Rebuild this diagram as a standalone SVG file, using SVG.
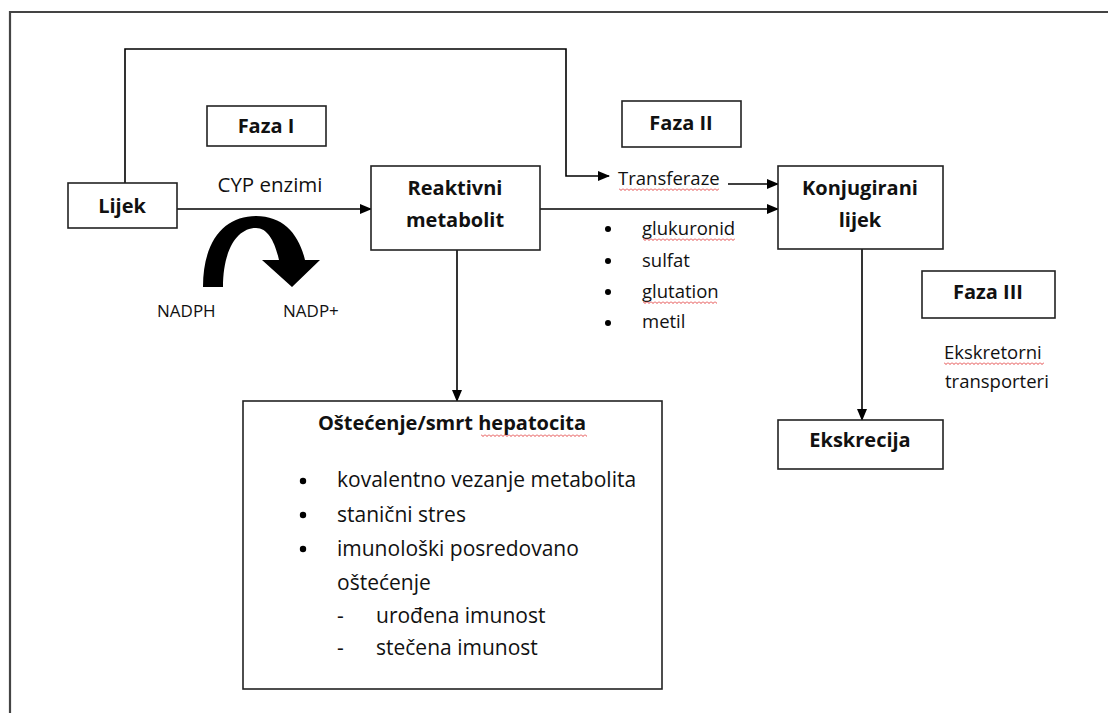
<svg xmlns="http://www.w3.org/2000/svg" width="1108" height="713" viewBox="0 0 1108 713">
<defs>
<marker id="ah" markerWidth="12" markerHeight="10" refX="11" refY="5" orient="auto" markerUnits="userSpaceOnUse">
<path d="M0,0 L12,5 L0,10 Z" fill="#000"/>
</marker>
<pattern id="wave" width="4" height="3" patternUnits="userSpaceOnUse">
<path d="M0,0.5 L2,2.5 L4,0.5" fill="none" stroke="#e03030" stroke-width="0.9"/>
</pattern>
<style>
.box{fill:#fff;stroke:#222;stroke-width:1.6}
.t{font-family:"Open Sans",Lato,sans-serif;fill:#111}
.b{font-weight:bold;font-size:20px}
.s{font-size:18.5px}
.l{font-size:21px}
.m{text-anchor:middle}
.ln{fill:none;stroke:#000;stroke-width:1.6}
.sq{fill:url(#wave)}
</style>
</defs>
<rect width="1108" height="713" fill="#fff"/>
<path d="M10,713 L10,12 L1108,12" fill="none" stroke="#444" stroke-width="2.2"/>

<g id="connectors">
<path class="ln" d="M125,183 L125,49 L566,49 L566,176 L609,176" marker-end="url(#ah)"/>
<path class="ln" d="M177,209 L371,209" marker-end="url(#ah)"/>
<path class="ln" d="M540,209 L778,209" marker-end="url(#ah)"/>
<path class="ln" d="M728,184 L778,184" marker-end="url(#ah)"/>
<path class="ln" d="M457,250 L457,401" marker-end="url(#ah)"/>
<path class="ln" d="M862,249 L862,420" marker-end="url(#ah)"/>
<path d="M203,287 C203,240 225,216 256,216 C283,216 299,234 305,260 L320,260 L292,287 L262,260 L279,260 C275,242 268,228 256,228 C237,228 223,250 223,287 Z" fill="#000"/>
</g>

<g id="lijek">
<rect class="box" x="68" y="183" width="109" height="45"/>
<text class="t b m" x="122" y="213">Lijek</text>
</g>
<g id="faza1">
<rect class="box" x="207" y="106" width="119" height="40"/>
<text class="t b m" x="266" y="133">Faza I</text>
</g>
<g id="cyp">
<text class="t m" x="270" y="192" font-size="20.5">CYP enzimi</text>
</g>
<g id="nadph">
<text class="t" x="157" y="317" font-size="17">NADPH</text>
<text class="t" x="283" y="317" font-size="17">NADP+</text>
</g>
<g id="reaktivni">
<rect class="box" x="371" y="166" width="169" height="84"/>
<text class="t b m" x="455" y="195">Reaktivni</text>
<text class="t b m" x="455" y="227">metabolit</text>
</g>
<g id="faza2">
<rect class="box" x="622" y="101" width="119" height="46"/>
<text class="t b m" x="681" y="130">Faza II</text>
</g>
<g id="transferaze">
<text class="t s" x="618" y="185">Transferaze</text>
<rect class="sq" transform="translate(619,188)" width="100" height="3"/>
</g>
<g id="konjugati">
<circle cx="608" cy="229" r="3"/>
<circle cx="608" cy="261" r="3"/>
<circle cx="608" cy="292" r="3"/>
<circle cx="608" cy="323" r="3"/>
<text class="t s" x="642" y="235">glukuronid</text>
<rect class="sq" transform="translate(643,238)" width="92" height="3"/>
<text class="t s" x="642" y="267">sulfat</text>
<text class="t s" x="642" y="298">glutation</text>
<rect class="sq" transform="translate(643,301)" width="74" height="3"/>
<text class="t s" x="642" y="328">metil</text>
</g>
<g id="konjugirani">
<rect class="box" x="778" y="166" width="165" height="83"/>
<text class="t b m" x="860" y="195">Konjugirani</text>
<text class="t b m" x="860" y="227">lijek</text>
</g>
<g id="faza3">
<rect class="box" x="922" y="271" width="133" height="47"/>
<text class="t b m" x="988" y="299">Faza III</text>
</g>
<g id="transporteri">
<text class="t s" x="944" y="359">Ekskretorni</text>
<rect class="sq" transform="translate(944,362)" width="100" height="3"/>
<text class="t s" x="945" y="388">transporteri</text>
</g>
<g id="ekskrecija">
<rect class="box" x="778" y="420" width="165" height="49"/>
<text class="t b m" x="860" y="447">Ekskrecija</text>
</g>
<g id="ostecenje">
<rect class="box" x="243" y="401" width="419" height="288"/>
<text class="t b m" x="452" y="430">Oštećenje/smrt hepatocita</text>
<rect class="sq" transform="translate(481,434)" width="106" height="3"/>
<circle cx="303" cy="481" r="3.2"/>
<circle cx="303" cy="515" r="3.2"/>
<circle cx="303" cy="549" r="3.2"/>
<text class="t l" x="337" y="487">kovalentno vezanje metabolita</text>
<text class="t l" x="337" y="522">stanični stres</text>
<text class="t l" x="337" y="556">imunološki posredovano</text>
<text class="t l" x="337" y="590">oštećenje</text>
<text class="t l" x="337" y="623">-</text>
<text class="t l" x="376" y="623">urođena imunost</text>
<text class="t l" x="337" y="655">-</text>
<text class="t l" x="376" y="655">stečena imunost</text>
</g>
</svg>
